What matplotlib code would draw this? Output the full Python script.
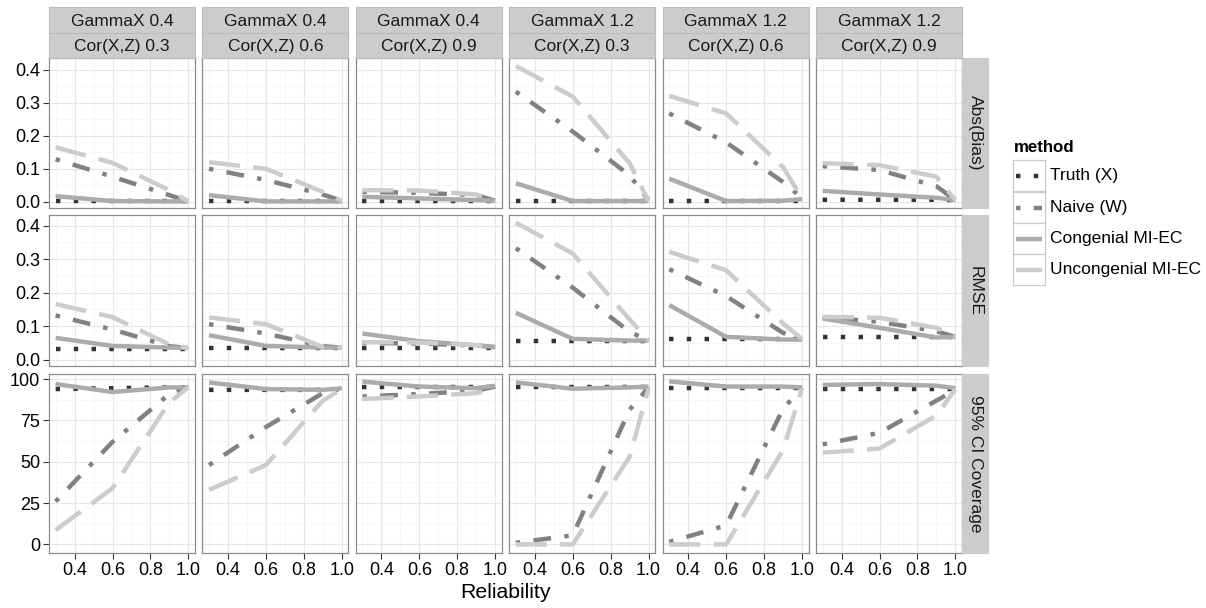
import matplotlib
matplotlib.use("Agg")
import matplotlib.pyplot as plt
from matplotlib.patches import Rectangle

plt.rcParams['font.family'] = ['Liberation Sans', 'DejaVu Sans']

# ---------------- data ----------------
reliability = [0.3, 0.6, 0.9, 1.0]
gamma_labels = ["GammaX 0.4", "GammaX 0.4", "GammaX 0.4", "GammaX 1.2", "GammaX 1.2", "GammaX 1.2"]
cor_labels = ["Cor(X,Z) 0.3", "Cor(X,Z) 0.6", "Cor(X,Z) 0.9", "Cor(X,Z) 0.3", "Cor(X,Z) 0.6", "Cor(X,Z) 0.9"]
metric_labels = ["Abs(Bias)", "RMSE", "95% CI Coverage"]
methods = ["Truth (X)", "Naive (W)", "Congenial MI-EC", "Uncongenial MI-EC"]

bias_truth = [[0.002, 0.002, 0.002, 0.002], [0.002, 0.002, 0.002, 0.002], [0.003, 0.003, 0.003, 0.003],
              [0.002, 0.002, 0.002, 0.002], [0.002, 0.002, 0.002, 0.002], [0.006, 0.006, 0.006, 0.005]]
bias_naive = [[0.129, 0.076, 0.020, 0.001], [0.100, 0.066, 0.022, 0.003], [0.030, 0.027, 0.020, 0.003],
              [0.334, 0.213, 0.080, 0.005], [0.268, 0.180, 0.060, 0.012], [0.108, 0.096, 0.047, 0.005]]
bias_cong = [[0.017, 0.002, 0.001, 0.001], [0.020, 0.001, 0.001, 0.001], [0.015, 0.010, 0.005, 0.003],
             [0.056, 0.002, 0.002, 0.002], [0.070, 0.002, 0.003, 0.008], [0.033, 0.022, 0.012, 0.005]]
bias_uncong = [[0.165, 0.118, 0.035, 0.001], [0.120, 0.100, 0.030, 0.003], [0.035, 0.034, 0.022, 0.003],
               [0.412, 0.319, 0.117, 0.002], [0.321, 0.268, 0.105, 0.010], [0.117, 0.111, 0.076, 0.005]]

rmse_truth = [[0.033, 0.033, 0.033, 0.033], [0.034, 0.034, 0.034, 0.034], [0.036, 0.036, 0.036, 0.036],
              [0.055, 0.055, 0.055, 0.055], [0.063, 0.063, 0.063, 0.063], [0.068, 0.068, 0.068, 0.068]]
rmse_naive = [[0.132, 0.090, 0.040, 0.035], [0.106, 0.078, 0.040, 0.036], [0.050, 0.048, 0.042, 0.037],
              [0.333, 0.215, 0.083, 0.057], [0.270, 0.190, 0.080, 0.060], [0.126, 0.113, 0.085, 0.068]]
rmse_cong = [[0.065, 0.041, 0.036, 0.035], [0.073, 0.041, 0.036, 0.036], [0.078, 0.055, 0.043, 0.038],
             [0.140, 0.062, 0.057, 0.057], [0.163, 0.068, 0.060, 0.060], [0.123, 0.095, 0.066, 0.068]]
rmse_uncong = [[0.166, 0.127, 0.045, 0.035], [0.126, 0.106, 0.038, 0.036], [0.052, 0.051, 0.043, 0.038],
               [0.409, 0.317, 0.120, 0.058], [0.322, 0.267, 0.108, 0.062], [0.128, 0.125, 0.095, 0.070]]

cov_truth = [[94.0, 94.5, 95.0, 95.0], [93.5, 93.5, 93.5, 94.0], [95.0, 95.0, 95.0, 95.0],
             [95.0, 95.0, 95.0, 95.0], [94.5, 94.5, 94.5, 94.5], [94.3, 94.3, 94.3, 94.3]]
cov_naive = [[26.0, 62.0, 91.0, 95.0], [48.0, 71.0, 91.5, 94.5], [89.5, 91.0, 93.0, 95.5],
             [1.0, 5.5, 81.5, 95.0], [1.5, 11.5, 82.0, 95.0], [60.5, 67.5, 87.0, 93.5]]
cov_cong = [[97.0, 92.2, 95.0, 95.0], [98.0, 94.0, 93.5, 94.5], [98.5, 95.5, 94.5, 96.0],
            [98.0, 94.2, 95.0, 95.5], [98.6, 95.5, 95.5, 95.0], [96.5, 97.0, 96.0, 94.5]]
cov_uncong = [[8.7, 34.0, 86.0, 95.0], [33.0, 48.0, 87.0, 94.0], [88.0, 89.5, 91.5, 94.0],
              [0.0, 0.0, 53.0, 94.5], [0.0, 0.0, 57.0, 94.5], [55.5, 58.0, 78.0, 94.0]]

metric_data = [
    [bias_truth, bias_naive, bias_cong, bias_uncong],
    [rmse_truth, rmse_naive, rmse_cong, rmse_uncong],
    [cov_truth, cov_naive, cov_cong, cov_uncong],
]

# ---------------- styles ----------------
method_colors = ["#333333", "#818181", "#ABABAB", "#CCCCCC"]
method_styles = [(0, (1, 3)), (0, (1, 3, 4, 3)), "solid", (0, (7, 3))]
LW = 3.2

W, H = 1206, 608
fig = plt.figure(figsize=(W / 100, H / 100), dpi=100)

col_left = [49 + i * 153.4 for i in range(6)]
PW = 146
rows = [(58, 208), (215, 366), (374, 553)]
ylims = [(-0.019, 0.436), (-0.019, 0.432), (-5.2, 103.1)]
ymajor = [[0, 0.1, 0.2, 0.3, 0.4], [0, 0.1, 0.2, 0.3, 0.4], [0, 25, 50, 75, 100]]
yminor = [[0.05, 0.15, 0.25, 0.35], [0.05, 0.15, 0.25, 0.35], [12.5, 37.5, 62.5, 87.5]]
ylabels = [["0.0", "0.1", "0.2", "0.3", "0.4"], ["0.0", "0.1", "0.2", "0.3", "0.4"],
           ["0", "25", "50", "75", "100"]]
BORDER = "#8C8C8C"
STRIP = "#CCCCCC"
TXT = "#1A1A1A"


def px_axes(x0, y0, x1, y1):
    return fig.add_axes([x0 / W, 1 - y1 / H, (x1 - x0) / W, (y1 - y0) / H])


for r, (y0, y1) in enumerate(rows):
    for c in range(6):
        x0 = col_left[c]
        ax = px_axes(x0, y0, x0 + PW, y1)
        ax.set_xlim(0.265, 1.035)
        ax.set_ylim(*ylims[r])
        ax.set_xticks([0.4, 0.6, 0.8, 1.0])
        ax.set_xticks([0.3, 0.5, 0.7, 0.9], minor=True)
        ax.set_yticks(ymajor[r])
        ax.set_yticks(yminor[r], minor=True)
        ax.grid(which="major", color="#E6E6E6", lw=0.8)
        ax.grid(which="minor", color="#F6F6F6", lw=0.6)
        ax.set_axisbelow(True)
        for s in ax.spines.values():
            s.set_color(BORDER)
            s.set_linewidth(0.9)
        ax.tick_params(which="minor", length=0)
        ax.tick_params(which="major", direction="out", length=4.3, width=0.8,
                       color="#333333", labelsize=13, labelcolor="black", pad=2)
        if c == 0:
            ax.set_yticklabels(ylabels[r])
        else:
            ax.tick_params(axis="y", left=False, labelleft=False)
        if r == 2:
            ax.set_xticklabels(["0.4", "0.6", "0.8", "1.0"])
        else:
            ax.tick_params(axis="x", bottom=False, labelbottom=False)
        for m in range(4):
            ax.plot(reliability, metric_data[r][m][c], color=method_colors[m],
                    linestyle=method_styles[m], lw=LW, dash_capstyle="butt",
                    solid_capstyle="butt", solid_joinstyle="round",
                    dash_joinstyle="round", zorder=3 + m)

    # right strip
    sx = px_axes(962, y0, 988, y1)
    sx.set_facecolor(STRIP)
    sx.set_xticks([]); sx.set_yticks([])
    for s in sx.spines.values():
        s.set_color(STRIP)
    sx.text(0.5, 0.5, metric_labels[r], rotation=270, ha="center", va="center",
            fontsize=12.5, color=TXT, transform=sx.transAxes)

# top strips
for c in range(6):
    x0 = col_left[c]
    for (ya, yb, lab) in [(7, 33, gamma_labels[c]), (33, 58, cor_labels[c])]:
        sx = px_axes(x0, ya, x0 + PW, yb)
        sx.set_facecolor(STRIP)
        sx.set_xticks([]); sx.set_yticks([])
        for s in sx.spines.values():
            s.set_color("#BDBDBD")
            s.set_linewidth(0.8)
        sx.text(0.5, 0.45, lab, ha="center", va="center", fontsize=12.5,
                color=TXT, transform=sx.transAxes)

# axis title
fig.text(505.5 / W, 1 - 593 / H, "Reliability", ha="center", va="center",
         fontsize=15.3, color="black")

# legend
fig.text(1014 / W, 1 - 147 / H, "method", ha="left", va="center",
         fontsize=12.2, fontweight="bold", color="black")
key_tops = [160, 192, 223, 254]
KH = 31
for m in range(4):
    ya = key_tops[m]
    kax = px_axes(1013, ya, 1045, ya + KH)
    kax.set_xlim(0, 1)
    kax.set_ylim(0, 1)
    kax.set_xticks([]); kax.set_yticks([])
    for s in kax.spines.values():
        s.set_color("#CCCCCC")
        s.set_linewidth(0.9)
    kax.plot([0.1, 0.9], [0.5, 0.5], color=method_colors[m], linestyle=method_styles[m],
             lw=LW, dash_capstyle="butt", solid_capstyle="butt")
    fig.text(1050 / W, 1 - (ya + KH / 2) / H, methods[m], ha="left", va="center",
             fontsize=12.5, color="black")

fig.savefig("out.png", dpi=100)
